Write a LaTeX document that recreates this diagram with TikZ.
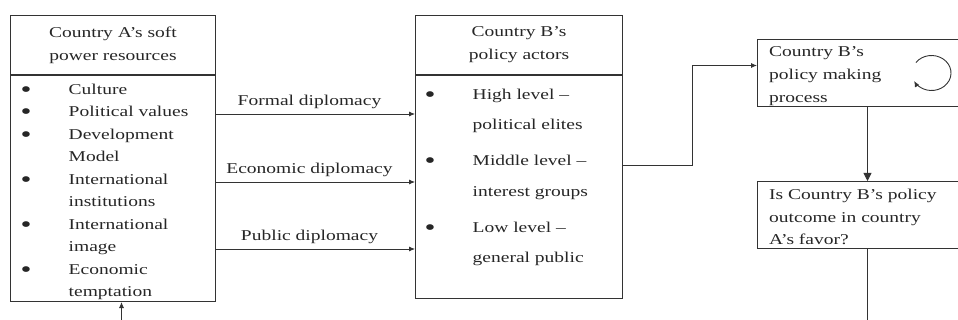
\documentclass[tikz,border=0pt]{standalone}
\usepackage{fontspec}
\setmainfont{Liberation Serif}[FakeStretch=1.3]
\usetikzlibrary{calc,positioning,arrows.meta}

\newcommand{\listbul}{\makebox[48pt][l]{\raisebox{-3pt}{\fontsize{24}{0}\selectfont\textbullet}}}
\newcommand{\listind}{\hspace*{48pt}}

\begin{document}
\begin{tikzpicture}[x=1pt, y=-1pt,
    every node/.style={font=\fontsize{15}{23}\selectfont, text=black!85},
    box/.style={draw=black!80, line width=1pt, inner sep=0pt},
    boxtext/.style={anchor=north west, align=left, inner sep=0pt},
    arr/.style={-{Latex[length=6pt,width=5pt]}, line width=0.8pt, draw=black!80},
    lbl/.style={above, inner sep=5pt, xshift=-6pt}]

    \useasboundingbox (0,0) rectangle (958,320);

    % country A
    \node[box, anchor=north west, minimum width=205pt, minimum height=59pt, align=center] (Atitle) at (10,15) {Country A's soft\\power resources};
    \node[box, below=0pt of Atitle, minimum width=205pt, minimum height=226pt] (Alist) {};
    \node[boxtext, font=\fontsize{15}{22.5}\selectfont] (Aitems) at ($(Alist.north west)+(10.5,8.5)$)
        {\listbul Culture\\ \listbul Political values\\ \listbul Development\\ \listind Model\\
         \listbul International\\ \listind institutions\\ \listbul International\\ \listind image\\
         \listbul Economic\\ \listind temptation};

    % country B
    \node[box, anchor=north west, minimum width=207pt, minimum height=59pt, align=center] (Btitle) at (415,15) {Country B's\\policy actors};
    \node[box, below=0pt of Btitle, minimum width=207pt, minimum height=223pt] (Blist) {};
    \node[boxtext, font=\fontsize{15}{30.5}\selectfont] (Bitems) at ($(Blist.north west)+(9.5,13.5)$)
        {\listbul High level --\\ \listind political elites\\[5.5pt]
         \listbul Middle level --\\ \listind interest groups\\[5.5pt]
         \listbul Low level --\\ \listind general public};

    % policy process
    \node[box, anchor=north west, minimum width=220pt, minimum height=67pt] (Cbox) at (757,39) {};
    \node[boxtext] (Ctext) at ($(Cbox.north west)+(12,7.5)$) {Country B's\\policy making\\process};
    \node[box, anchor=north west, minimum width=220pt, minimum height=67pt] (Dbox) at (757,181) {};
    \node[boxtext, font=\fontsize{15}{22.5}\selectfont] (Dtext) at ($(Dbox.north west)+(12,8)$) {Is Country B's policy\\outcome in country\\A's favor?};

    % diplomacy channels
    \draw[arr] ($(Alist.north east)+(0,39)$) -- node[lbl] (lformal) {Formal diplomacy} ($(Blist.north west)+(0,39)$);
    \draw[arr] ($(Alist.north east)+(0,107)$) -- node[lbl] (leconomic) {Economic diplomacy} ($(Blist.north west)+(0,107)$);
    \draw[arr] ($(Alist.north east)+(0,174)$) -- node[lbl] (lpublic) {Public diplomacy} ($(Blist.north west)+(0,174)$);

    \draw[arr] ($(Blist.north east)+(0,90)$) -- ++(69,0) |- ($(Cbox.west)+(0,-7.5)$);
    \draw[line width=0.8pt, draw=black!80, -{Triangle[length=8pt,width=8pt]}] (Cbox) -- (Dbox);
    \draw[line width=0.9pt, draw=black!80, -{Latex[length=6pt,width=5pt]}] ($(Cbox.center)+(64,0)$) ++(-143:19.5 and 17.5)
        arc[start angle=-143, end angle=153, x radius=19.5, y radius=17.5];

    % feedback ends
    \coordinate (Dout) at ($(Dbox.south)+(0,80)$);
    \draw[line width=0.8pt, draw=black!80] (Dbox) -- (Dout);
    \coordinate (Ain) at ($(Alist.south)+(8.5,30)$);
    \draw[arr] (Ain) -- (Ain |- Alist.south);

\end{tikzpicture}
\end{document}
